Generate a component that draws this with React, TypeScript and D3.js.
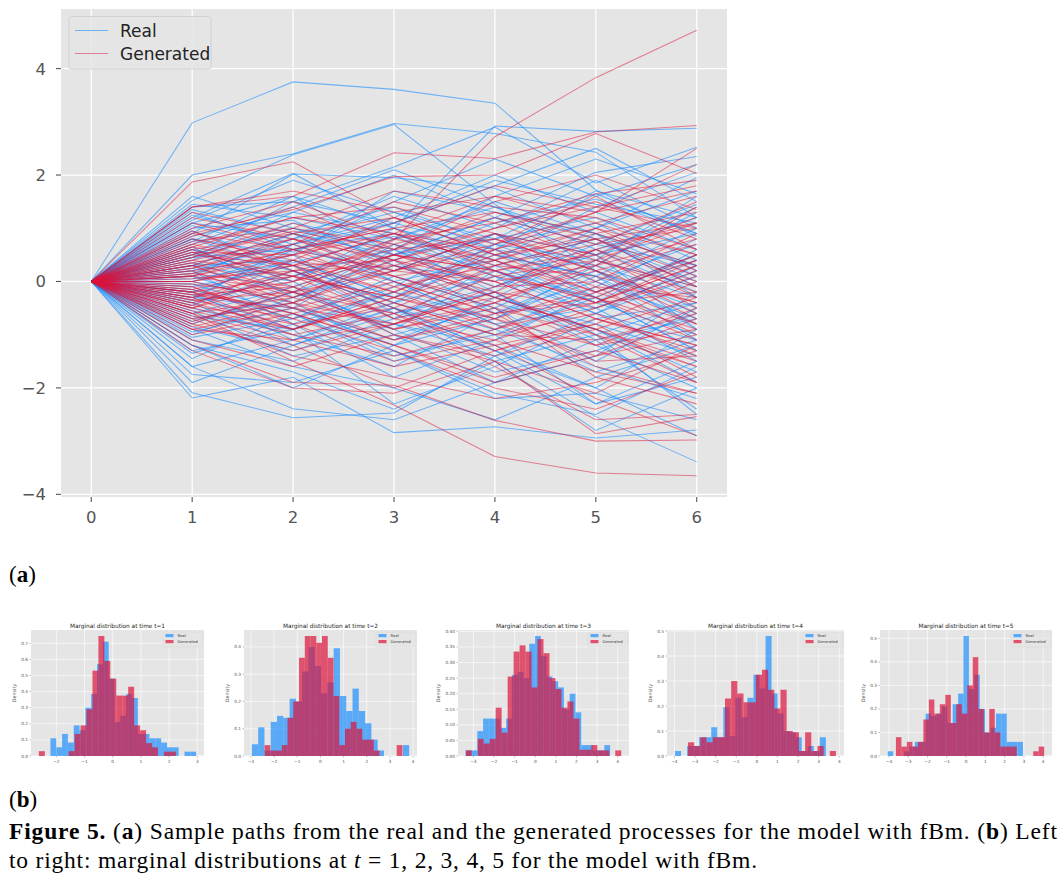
import React from 'react';
import * as d3 from 'd3';

// ---------- main chart data ----------
const TIMES = [0, 1, 2, 3, 4, 5, 6];
const MAIN_X_TICKS = [0, 1, 2, 3, 4, 5, 6];
const MAIN_Y_TICKS = [-4, -2, 0, 2, 4];

// values at t = 1..6 (t = 0 is 0 for every path)
const REAL_PATHS = [
  [2.98, 3.75, 3.61, 3.35, 1.72, 0.85],
  [2.0, 2.4, 2.97, 2.78, 2.43, 1.2],
  [1.52, 2.38, 2.95, 1.45, 0.2, -0.6],
  [1.2, 2.03, 1.0, 2.92, 2.82, 2.88],
  [-2.19, -1.8, -2.84, -2.73, -2.94, -2.79],
  [-2.09, -2.56, -2.47, -1.4, -2.54, -3.39],
  [-1.6, -2.39, -2.6, -1.9, -1.1, -2.4],
  [1.4, 1.5, 2.15, 2.9, 1.85, 2.52],
  [0.9, 2.02, 1.95, 1.75, 1.0, 1.95],
  [1.1, 1.6, 0.5, 1.2, 2.05, 2.35],
  [-1.75, -1.9, -1.3, -2.2, -2.1, -2.6],
  [-1.3, -0.9, -2.3, -1.6, -0.7, -0.4],
  [0.6, 0.2, -0.5, -1.0, -2.3, -1.5],
  [0.3, 0.9, 1.4, 0.7, 0.4, 1.6],
  [-0.4, -1.2, -0.6, -0.1, 0.7, 0.3],
  [-0.8, -0.2, 0.4, 1.1, 1.55, 0.9],
  [0.1, -0.5, -1.1, -0.4, -0.9, -1.9],
  [1.25, 0.7, 1.1, 1.9, 1.45, 1.1],
  [-1.1, -1.5, -0.8, -1.2, -2.0, -0.9],
  [0.45, 1.3, 0.9, 0.2, -0.5, 0.2],
  [-0.2, 0.4, -0.3, 0.5, 0.1, -0.8],
  [0.8, 0.5, 1.7, 1.3, 0.9, -0.3],
  [-0.6, -0.1, -0.9, -1.7, -1.3, -0.6],
  [0.2, -0.8, -0.2, -0.7, 0.3, 1.3],
  [-1.45, -0.6, -1.5, -0.9, -1.6, -2.2],
  [1.0, 1.15, 0.3, -0.3, 0.6, -0.2],
  [-0.35, 0.7, 1.2, 2.0, 1.3, 0.6],
  [0.65, -0.3, 0.2, 0.9, -0.2, 0.5],
  [-0.9, -1.6, -2.0, -2.6, -1.8, -1.2],
  [0.05, 0.35, 0.85, 0.1, -0.6, -1.1],
  [1.15, 1.9, 1.3, 0.6, 1.65, 0.9],
  [-0.5, -1.0, -1.6, -0.6, 0.2, -0.9],
  [0.35, 0.1, 0.6, 1.6, 2.3, 1.65],
  [-1.2, -2.0, -1.2, -0.3, -0.9, -1.7],
  [0.7, 1.4, 2.1, 1.4, 0.6, 1.2],
  [-0.15, -0.7, 0.1, -0.5, -1.5, -0.5],
  [1.35, 0.9, 0.0, 0.4, -0.4, 0.6],
  [-0.7, -0.4, -1.3, -2.1, -2.5, -1.6],
  [0.5, 1.0, 0.4, -0.6, 0.0, -0.7],
  [-1.0, -0.3, 0.3, 0.0, 1.0, 1.7],
  [0.25, -0.2, -0.8, -1.4, -0.6, 0.1],
  [-0.3, 0.6, 0.9, 0.3, 0.8, 0.0],
  [0.95, 0.3, -0.4, 0.1, -1.0, -0.4],
  [-1.6, -1.1, -0.4, 0.6, 0.3, -0.3],
  [0.15, 0.8, 1.6, 1.0, 1.9, 1.0],
  [-0.05, -0.6, -1.4, -1.0, -0.3, -1.3],
  [1.45, 1.2, 0.8, 1.5, 0.9, 0.3],
  [-0.45, 0.2, -0.5, -1.3, -2.0, -2.9],
  [0.55, -0.1, 0.5, 0.8, 1.2, 0.4],
  [-0.85, -1.3, -0.7, 0.3, -0.4, -1.0],
  [0.4, 1.1, 0.7, -0.2, -1.1, -0.7],
  [-0.25, -0.9, -0.1, 0.9, 0.5, 1.4],
  [1.05, 0.55, 1.5, 2.3, 1.6, 2.2],
  [-1.35, -0.8, -1.8, -1.1, -0.2, 0.4],
  [0.0, 0.5, -0.6, -0.2, -1.2, -2.0],
  [0.75, 1.6, 1.0, 0.5, 0.1, -1.1],
  [-0.55, -1.4, -1.0, -1.9, -1.4, -0.2],
  [0.3, 0.0, 1.0, 0.4, 1.4, 2.05],
  [-0.95, -0.5, 0.6, -0.3, -0.8, -1.4],
  [1.3, 0.6, 0.2, 0.9, 0.2, -0.5],
  [-0.1, 0.3, -0.4, -0.9, -0.1, 0.8],
  [0.85, 1.3, 2.0, 1.2, 0.7, 1.45],
  [-1.9, -1.2, -0.5, -1.3, -2.3, -1.8],
  [0.6, 0.0, -1.0, -0.5, 0.4, -0.1],
  [0.45, 0.6, 1.1, 0.6, -0.3, 0.5],
  [-0.65, -0.9, -0.2, 0.7, 1.1, 0.2],
  [0.2, 0.7, 0.0, -0.8, -0.5, -1.5],
  [-0.3, -0.5, -1.2, -0.7, 0.1, 1.0],
  [1.1, 0.8, 1.3, 0.8, 1.7, 1.2],
  [-0.4, 0.1, 0.8, 1.4, 0.8, -0.1],
  [0.1, 0.9, 0.5, 1.2, 0.5, 0.9],
  [-1.05, -0.7, 0.0, -0.8, -1.7, -1.1],
  [0.8, 0.2, -0.7, -0.2, 0.9, 0.1],
  [-0.2, -1.1, -0.5, -1.5, -1.0, -2.5],
  [0.5, 1.5, 1.1, 1.8, 2.5, 1.5],
  [-0.75, -0.2, -0.9, 0.2, -0.6, 0.3],
  [0.0, -0.4, 0.7, 0.2, -0.3, -1.3],
  [1.6, 1.0, 0.6, -0.1, 0.5, -0.9],
  [-1.2, -1.7, -2.4, -1.5, -2.8, -2.0],
  [0.3, 0.4, -0.3, 0.7, 0.0, 0.7],
];

const GEN_PATHS = [
  [0.35, -0.2, 0.78, 2.72, 3.83, 4.72],
  [1.87, 2.25, 1.2, 0.5, 0.8, 0.1],
  [1.4, 1.6, 2.42, 2.31, 2.81, 2.93],
  [0.9, 1.35, 1.97, 2.0, 2.78, 2.03],
  [-0.6, -1.5, -2.32, -3.29, -3.6, -3.65],
  [-1.2, -1.9, -1.95, -2.61, -3.0, -2.98],
  [-1.3, -2.0, -2.1, -1.5, -2.86, -2.54],
  [-0.9, -1.1, -1.6, -1.2, -2.2, -2.9],
  [1.4, 1.7, 1.3, 1.6, 1.3, 2.2],
  [1.0, 1.5, 0.8, 1.1, 1.65, 1.9],
  [0.6, 0.9, 1.2, 0.5, -0.2, 0.4],
  [0.3, -0.3, -0.9, -0.4, 0.3, -0.6],
  [-0.3, 0.2, 0.6, 1.3, 0.9, 1.3],
  [-0.5, -0.9, -0.3, -0.8, -1.4, -1.0],
  [0.1, 0.5, 0.0, -0.6, -0.3, 0.5],
  [-0.2, -0.6, -1.2, -1.8, -1.3, -1.9],
  [0.7, 0.3, 0.4, 1.0, 1.5, 0.8],
  [-0.7, -0.4, 0.2, 0.0, -0.7, -1.3],
  [0.5, 1.1, 0.5, -0.1, 0.6, 1.1],
  [-0.1, -0.8, -0.5, 0.3, 0.1, -0.4],
  [0.25, 0.7, 1.5, 1.1, 0.4, -0.2],
  [-0.4, 0.1, -0.7, -1.1, -0.5, 0.2],
  [0.8, 0.4, -0.2, 0.6, 1.1, 1.6],
  [-0.8, -1.3, -0.8, -0.2, -1.0, -1.6],
  [0.0, -0.4, 0.3, 0.8, 0.2, 0.7],
  [0.45, 0.95, 0.6, 1.5, 2.0, 1.35],
  [-0.25, -0.1, -1.0, -1.5, -2.1, -1.2],
  [1.1, 0.6, 1.0, 0.2, -0.4, 0.3],
  [-0.55, -1.0, -1.4, -0.9, -0.2, -0.8],
  [0.15, 0.6, -0.1, -0.7, -1.2, -0.5],
  [-0.35, -0.7, -0.2, 0.5, 1.0, 0.5],
  [0.65, 1.2, 0.9, 0.3, 0.8, -0.1],
  [-0.15, 0.3, 0.9, 0.6, -0.1, -1.0],
  [0.2, -0.5, -1.1, -0.6, -1.6, -2.1],
  [-1.0, -0.6, -1.2, -1.9, -1.4, -0.7],
  [0.55, 0.1, 0.7, 1.2, 0.7, 1.0],
  [-0.45, 0.4, 0.1, -0.4, 0.4, 1.1],
  [0.95, 0.2, -0.4, -1.0, -0.6, -1.4],
  [-0.65, -1.2, -2.0, -1.3, -0.8, -1.8],
  [0.4, 0.8, 0.2, 0.9, 0.0, 0.9],
  [-0.05, -0.3, 0.4, -0.3, -0.9, -0.3],
  [0.75, 1.0, 1.7, 1.4, 1.2, 0.6],
  [-0.3, -1.0, -0.6, 0.1, -0.3, -1.1],
  [0.05, 0.2, -0.5, -1.2, -0.8, 0.0],
  [-0.75, -0.2, -0.9, -0.5, -1.8, -2.3],
  [1.2, 0.8, 0.1, 0.4, 1.0, 0.2],
  [-0.6, -0.3, 0.5, 0.2, 0.5, -0.5],
  [0.3, 0.9, 0.3, -0.2, -0.5, 0.1],
  [-0.1, -0.7, -1.3, -2.0, -2.4, -1.7],
  [0.6, 0.0, 0.5, 0.0, 0.3, 1.4],
  [-0.9, -0.5, 0.0, -0.6, -0.4, 0.3],
  [0.2, 0.5, 1.1, 1.8, 1.4, 1.8],
  [-0.4, -0.9, -0.4, -1.0, -1.1, -0.6],
  [0.85, 1.4, 0.6, 0.8, 0.2, -0.7],
  [-0.2, 0.1, -0.3, 0.4, 0.9, 0.3],
  [0.5, 0.3, -0.7, -0.3, 0.2, -0.4],
  [-1.1, -1.6, -1.0, -1.4, -0.9, -1.5],
  [0.1, -0.2, 0.2, 0.7, 1.3, 2.5],
  [-0.5, 0.0, 0.8, 0.4, -0.3, -0.9],
  [0.35, 0.7, 0.1, -0.5, -1.0, -1.9],
  [-0.25, -0.5, -0.8, -0.2, 0.6, 0.0],
  [1.3, 0.9, 0.4, 0.9, 0.5, 1.2],
  [-0.8, -0.1, -0.6, -1.6, -2.6, -2.5],
  [0.0, 0.4, 1.2, 0.7, 1.6, 0.6],
  [0.15, -0.1, 0.5, 0.2, -0.4, -0.2],
  [-0.35, -0.2, -0.6, -1.3, -0.7, -1.2],
  [0.55, 0.5, 0.9, 1.6, 1.1, 0.5],
  [-0.15, -0.6, -0.1, 0.3, 0.7, 1.5],
  [0.4, 0.1, -0.3, 0.2, 0.6, -0.3],
  [-0.6, -1.1, -0.8, -0.4, -1.2, -0.9],
  [0.25, 0.8, 0.4, 0.0, -0.7, -1.2],
  [-0.45, -0.8, -1.5, -1.1, -1.7, -2.1],
  [0.7, 1.2, 1.4, 0.9, 0.3, 0.8],
  [0.0, 0.3, -0.2, -0.9, -0.4, 0.4],
  [-0.3, 0.0, 0.5, 1.0, 1.4, 1.0],
  [0.3, -0.4, -0.8, -0.1, 0.0, -0.8],
  [-0.85, -0.4, -1.1, -0.7, -0.1, -0.3],
  [0.9, 0.6, 0.2, 0.6, 1.3, 1.7],
  [-0.2, -0.9, -0.3, -0.7, -1.5, -1.4],
  [0.45, 1.0, 0.7, 0.1, 0.4, -0.1],
  [-0.5, 0.2, 0.3, -0.3, -0.9, -1.6],
  [0.1, 0.6, 1.0, 1.3, 0.8, 1.1],
  [-0.7, -1.4, -1.8, -2.2, -1.9, -1.3],
  [0.65, 0.3, 0.9, 0.4, -0.2, 0.5],
];

// ---------- histogram data (density heights, bins spread evenly over range) ----------
const REAL_T1_RANGE = [-2.21, 2.96];
const REAL_T1 = [0.11, 0.054, 0.137, 0.083, 0.19, 0.16, 0.3, 0.385, 0.57, 0.71, 0.48, 0.21, 0.25, 0.385, 0.36, 0.137, 0.137, 0.11, 0.11, 0.083, 0.054, 0.054, 0, 0.027, 0.027];
const GEN_T1_RANGE = [-2.62, 2.24];
const GEN_T1 = [0.03, 0, 0, 0, 0, 0.03, 0.137, 0.19, 0.29, 0.53, 0.745, 0.59, 0.48, 0.375, 0.375, 0.43, 0.19, 0.16, 0.08, 0.054, 0, 0.027, 0.027];

const REAL_T2_RANGE = [-2.96, 3.83];
const REAL_T2 = [0.043, 0.105, 0.02, 0.125, 0.147, 0.14, 0.21, 0.2, 0.31, 0.4, 0.33, 0.23, 0.27, 0.395, 0.22, 0.165, 0.247, 0.165, 0.12, 0.06, 0.02, 0, 0, 0, 0.04];
const GEN_T2_RANGE = [-2.41, 3.54];
const GEN_T2 = [0.04, 0.02, 0.02, 0.04, 0.14, 0.2, 0.36, 0.44, 0.44, 0.415, 0.44, 0.36, 0.22, 0.04, 0.1, 0.125, 0.1, 0.06, 0.06, 0.02, 0, 0, 0, 0.04];

const REAL_T3_RANGE = [-3.37, 3.63];
const REAL_T3 = [0.018, 0.018, 0.08, 0.12, 0.12, 0.12, 0.09, 0.12, 0.26, 0.27, 0.25, 0.36, 0.385, 0.32, 0.255, 0.24, 0.22, 0.15, 0.2, 0.14, 0.035, 0.035, 0.018, 0.018, 0.035];
const GEN_T3_RANGE = [-3.37, 4.17];
const GEN_T3 = [0.018, 0, 0.055, 0.04, 0.055, 0.155, 0.075, 0.255, 0.335, 0.355, 0.335, 0.22, 0.375, 0.33, 0.25, 0.215, 0.155, 0.175, 0.12, 0.02, 0.02, 0.035, 0.018, 0.018, 0, 0.018];

const REAL_T4_RANGE = [-3.97, 3.35];
const REAL_T4 = [0.02, 0, 0.04, 0.04, 0.075, 0.075, 0.115, 0.075, 0.195, 0.08, 0.233, 0.155, 0.233, 0.325, 0.27, 0.48, 0.25, 0.17, 0.1, 0.095, 0.075, 0.02, 0.04, 0.02, 0.075];
const GEN_T4_RANGE = [-3.34, 3.84];
const GEN_T4 = [0.055, 0.04, 0.075, 0.055, 0.075, 0.075, 0.23, 0.3, 0.25, 0.215, 0.215, 0.325, 0.345, 0.265, 0.19, 0.265, 0.1, 0.095, 0.02, 0.095, 0.02, 0.04, 0, 0.02];

const REAL_T5_RANGE = [-4.06, 2.95];
const REAL_T5 = [0.02, 0, 0, 0.02, 0.04, 0.06, 0.06, 0.18, 0.17, 0.18, 0.21, 0.14, 0.22, 0.265, 0.51, 0.285, 0.345, 0.2, 0.1, 0.12, 0.18, 0.18, 0.06, 0.06, 0.06];
const GEN_T5_RANGE = [-3.64, 4.05];
const GEN_T5 = [0.08, 0.04, 0.06, 0.04, 0.06, 0.155, 0.24, 0.18, 0.22, 0.26, 0.14, 0.22, 0.18, 0.3, 0.42, 0.2, 0.1, 0.2, 0.1, 0.04, 0.04, 0.04, 0, 0, 0, 0.02, 0.04];

const HIST_TITLES = [1, 2, 3, 4, 5].map((t) => `Marginal distribution at time t=${t}`);
const HIST_X_TICKS = [
  [-2, -1, 0, 1, 2, 3],
  [-3, -2, -1, 0, 1, 2, 3, 4],
  [-3, -2, -1, 0, 1, 2, 3, 4],
  [-4, -3, -2, -1, 0, 1, 2, 3, 4],
  [-4, -3, -2, -1, 0, 1, 2, 3, 4],
];
const HIST_Y_TICKS = [
  [0, 0.1, 0.2, 0.3, 0.4, 0.5, 0.6, 0.7],
  [0, 0.1, 0.2, 0.3, 0.4],
  [0, 0.05, 0.1, 0.15, 0.2, 0.25, 0.3, 0.35, 0.4],
  [0, 0.1, 0.2, 0.3, 0.4, 0.5],
  [0, 0.1, 0.2, 0.3, 0.4, 0.5],
];
const HIST_Y_DECIMALS = [1, 1, 2, 1, 1];

const HISTS = [
  { real: REAL_T1, realRange: REAL_T1_RANGE, gen: GEN_T1, genRange: GEN_T1_RANGE },
  { real: REAL_T2, realRange: REAL_T2_RANGE, gen: GEN_T2, genRange: GEN_T2_RANGE },
  { real: REAL_T3, realRange: REAL_T3_RANGE, gen: GEN_T3, genRange: GEN_T3_RANGE },
  { real: REAL_T4, realRange: REAL_T4_RANGE, gen: GEN_T4, genRange: GEN_T4_RANGE },
  { real: REAL_T5, realRange: REAL_T5_RANGE, gen: GEN_T5, genRange: GEN_T5_RANGE },
];

// ---------- layout / style ----------
const REAL_COLOR = '#1E90FF';
const GEN_COLOR = '#DC143C';
const BG = '#E5E5E5';
const TICK_COLOR = '#555555';
const SANS = 'DejaVu Sans, sans-serif';
const SERIF = 'Liberation Serif, serif';

const PANEL_LEFTS = [31, 244, 458, 667, 880];
const PANEL_RIGHTS = [204, 417, 629, 844, 1052];
const PANEL_TOP = 630;
const PANEL_BOTTOM = 756;

const fmtMinus = (s: string) => s.replace('-', '\u2212');

function MainChart() {
  const x = d3.scaleLinear().domain([-0.3, 6.3]).range([61, 727]);
  const y = d3.scaleLinear().domain([-4.05, 5.12]).range([497, 9]);
  const line = d3
    .line<number>()
    .x((_, i) => x(TIMES[i]))
    .y((d) => y(d));
  const [x0, x1] = x.range();
  const [y0, y1] = y.range();
  return (
    <g>
      <rect x={x0} y={y1} width={x1 - x0} height={y0 - y1} fill={BG} />
      {MAIN_X_TICKS.map((t) => (
        <line key={'gx' + t} x1={x(t)} x2={x(t)} y1={y1} y2={y0} stroke="#fff" strokeWidth={1.3} />
      ))}
      {MAIN_Y_TICKS.map((t) => (
        <line key={'gy' + t} x1={x0} x2={x1} y1={y(t)} y2={y(t)} stroke="#fff" strokeWidth={1.3} />
      ))}
      {REAL_PATHS.map((p, i) => (
        <path key={'r' + i} d={line([0, ...p]) || ''} fill="none" stroke={REAL_COLOR} strokeOpacity={0.6} strokeWidth={1.05} />
      ))}
      {GEN_PATHS.map((p, i) => (
        <path key={'g' + i} d={line([0, ...p]) || ''} fill="none" stroke={GEN_COLOR} strokeOpacity={0.5} strokeWidth={1.05} />
      ))}
      {MAIN_X_TICKS.map((t) => (
        <g key={'tx' + t}>
          <line x1={x(t)} x2={x(t)} y1={y0} y2={y0 + 5} stroke={TICK_COLOR} strokeWidth={1.1} />
          <text x={x(t)} y={y0 + 26} textAnchor="middle" fontFamily={SANS} fontSize={16.5} fill={TICK_COLOR}>
            {fmtMinus(String(t))}
          </text>
        </g>
      ))}
      {MAIN_Y_TICKS.map((t) => (
        <g key={'ty' + t}>
          <line x1={x0 - 5} x2={x0} y1={y(t)} y2={y(t)} stroke={TICK_COLOR} strokeWidth={1.1} />
          <text x={x0 - 15} y={y(t) + 6} textAnchor="end" fontFamily={SANS} fontSize={16.5} fill={TICK_COLOR}>
            {fmtMinus(String(t))}
          </text>
        </g>
      ))}
      {/* legend */}
      <rect x={69} y={16.5} width={142} height={52.5} rx={3} fill={BG} fillOpacity={0.8} stroke="#cccccc" strokeWidth={0.8} />
      <line x1={75} x2={108} y1={30.5} y2={30.5} stroke={REAL_COLOR} strokeOpacity={0.6} strokeWidth={1.1} />
      <line x1={75} x2={108} y1={53.5} y2={53.5} stroke={GEN_COLOR} strokeOpacity={0.5} strokeWidth={1.1} />
      <text x={120} y={36.5} fontFamily={SANS} fontSize={17} fill="#222">Real</text>
      <text x={120} y={59.5} fontFamily={SANS} fontSize={17} fill="#222">Generated</text>
    </g>
  );
}

function HistPanel({ idx }: { idx: number }) {
  const h = HISTS[idx];
  const left = PANEL_LEFTS[idx];
  const right = PANEL_RIGHTS[idx];
  const lo = Math.min(h.realRange[0], h.genRange[0]);
  const hi = Math.max(h.realRange[1], h.genRange[1]);
  const pad = (hi - lo) * 0.05;
  const ymax = Math.max(d3.max(h.real) || 0, d3.max(h.gen) || 0) * 1.05;
  const x = d3.scaleLinear().domain([lo - pad, hi + pad]).range([left, right]);
  const y = d3.scaleLinear().domain([0, ymax]).range([PANEL_BOTTOM, PANEL_TOP]);
  const bins = (vals: number[], range: number[]) => {
    const w = (range[1] - range[0]) / vals.length;
    return vals.map((v, i) => ({ x0: range[0] + i * w, x1: range[0] + (i + 1) * w, v }));
  };
  const dec = HIST_Y_DECIMALS[idx];
  const fmt = d3.format(`.${dec}f`);
  const ylabelX = left - (dec === 2 ? 18 : 15);
  return (
    <g>
      <rect x={left} y={PANEL_TOP} width={right - left} height={PANEL_BOTTOM - PANEL_TOP} fill={BG} />
      {HIST_X_TICKS[idx].map((t) => (
        <line key={'gx' + t} x1={x(t)} x2={x(t)} y1={PANEL_TOP} y2={PANEL_BOTTOM} stroke="#fff" strokeWidth={0.6} />
      ))}
      {HIST_Y_TICKS[idx].map((t) => (
        <line key={'gy' + t} x1={left} x2={right} y1={y(t)} y2={y(t)} stroke="#fff" strokeWidth={0.6} />
      ))}
      {bins(h.real, h.realRange)
        .filter((b) => b.v > 0)
        .map((b, i) => (
          <rect key={'r' + i} x={x(b.x0)} y={y(b.v)} width={x(b.x1) - x(b.x0)} height={y(0) - y(b.v)} fill={REAL_COLOR} fillOpacity={0.7} />
        ))}
      {bins(h.gen, h.genRange)
        .filter((b) => b.v > 0)
        .map((b, i) => (
          <rect key={'g' + i} x={x(b.x0)} y={y(b.v)} width={x(b.x1) - x(b.x0)} height={y(0) - y(b.v)} fill={GEN_COLOR} fillOpacity={0.7} />
        ))}
      {HIST_X_TICKS[idx].map((t) => (
        <g key={'tx' + t}>
          <line x1={x(t)} x2={x(t)} y1={PANEL_BOTTOM} y2={PANEL_BOTTOM + 1.5} stroke={TICK_COLOR} strokeWidth={0.4} />
          <text x={x(t)} y={PANEL_BOTTOM + 6.5} textAnchor="middle" fontFamily={SANS} fontSize={4.3} fill={TICK_COLOR}>
            {fmtMinus(String(t))}
          </text>
        </g>
      ))}
      {HIST_Y_TICKS[idx].map((t) => (
        <g key={'ty' + t}>
          <line x1={left - 1.5} x2={left} y1={y(t)} y2={y(t)} stroke={TICK_COLOR} strokeWidth={0.4} />
          <text x={left - 3} y={y(t) + 1.5} textAnchor="end" fontFamily={SANS} fontSize={4.3} fill={TICK_COLOR}>
            {fmt(t)}
          </text>
        </g>
      ))}
      <text x={(left + right) / 2} y={PANEL_TOP - 2.5} textAnchor="middle" fontFamily={SANS} fontSize={5.8} fill="#222">
        {HIST_TITLES[idx]}
      </text>
      <text
        transform={`translate(${ylabelX},${(PANEL_TOP + PANEL_BOTTOM) / 2}) rotate(-90)`}
        textAnchor="middle"
        fontFamily={SANS}
        fontSize={4.8}
        fill={TICK_COLOR}
      >
        Density
      </text>
      {/* legend */}
      <rect x={right - 41} y={PANEL_TOP + 2} width={40} height={15} rx={1} fill={BG} fillOpacity={0.8} stroke="#d0d0d0" strokeWidth={0.3} />
      <rect x={right - 38.5} y={PANEL_TOP + 4} width={8} height={3.2} fill={REAL_COLOR} fillOpacity={0.7} />
      <rect x={right - 38.5} y={PANEL_TOP + 10} width={8} height={3.2} fill={GEN_COLOR} fillOpacity={0.7} />
      <text x={right - 26.5} y={PANEL_TOP + 7} fontFamily={SANS} fontSize={3.8} fill="#333">Real</text>
      <text x={right - 26.5} y={PANEL_TOP + 13} fontFamily={SANS} fontSize={3.8} fill="#333">Generated</text>
    </g>
  );
}

export default function App() {
  return (
    <svg
      width={1064}
      height={884}
      viewBox="0 0 1064 884"
      style={{ position: 'absolute', left: 0, top: 0, background: '#fff' }}
    >
      <rect x={0} y={0} width={1064} height={884} fill="#fff" />
      <MainChart />
      <text x={9} y={582} fontFamily={SERIF} fontSize={23} fill="#000">
        (<tspan fontWeight="bold">a</tspan>)
      </text>
      {[0, 1, 2, 3, 4].map((i) => (
        <HistPanel key={i} idx={i} />
      ))}
      <text x={9} y={807} fontFamily={SERIF} fontSize={23} fill="#000">
        (<tspan fontWeight="bold">b</tspan>)
      </text>
      <text x={9} y={839} fontFamily={SERIF} fontSize={23.5} fill="#000" textLength={1048} lengthAdjust="spacing">
        <tspan fontWeight="bold">Figure 5.</tspan> (<tspan fontWeight="bold">a</tspan>) Sample paths from the real and the
        generated processes for the model with fBm. (<tspan fontWeight="bold">b</tspan>) Left
      </text>
      <text x={9} y={868} fontFamily={SERIF} fontSize={23.5} fill="#000" textLength={748} lengthAdjust="spacing">
        to right: marginal distributions at <tspan fontStyle="italic">t</tspan> = 1, 2, 3, 4, 5 for the model with fBm.
      </text>
    </svg>
  );
}
